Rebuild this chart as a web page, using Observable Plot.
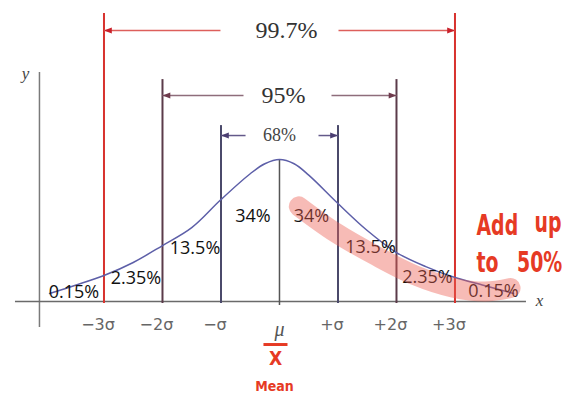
<!DOCTYPE html>
<html><head><meta charset="utf-8">
<script src="https://cdn.jsdelivr.net/npm/d3@7"></script>
<script src="https://cdn.jsdelivr.net/npm/@observablehq/plot@0.6"></script>
<style>
body{margin:0;background:#fff} svg{display:block}
</style>
</head><body><div id="chart"></div>
<script>
// Bell curve (x in σ units, height relative to the peak)
const curveX = [-3.93,-3.5,-3,-2.5,-2,-1.5,-1,-0.5,-0.25,0,0.25,0.5,1,1.5,2,2.5,3,3.5,4.0];
const curveY = [0.056,0.113,0.183,0.275,0.394,0.52,0.718,0.90,0.97,1,0.97,0.89,0.69,0.50,0.345,0.246,0.169,0.113,0.056];

// Tick labels on the x axis
const sigmaTicks = [-3,-2,-1,0,1,2,3];
const tickLabels = ["−3σ","−2σ","−σ","μ","+σ","+2σ","+3σ"];

// Coverage brackets
const bandLabels = ["99.7%","95%","68%"];
const bandHalf = [3,2,1];
const bandTop = [2.028,1.563,1.239];
const bandArrowY = [1.908,1.451,1.169];
const bandInnerLeft = [-1.009,-0.615,-0.58];
const bandInnerRight = [1.009,0.889,0.667];
const bandLabelX = [0.12,0.068,0];

// Segment percentages
const segLabels = ["0.15%","2.35%","13.5%","34%","34%","13.5%","2.35%","0.15%"];
const segX = [-3.513,-2.453,-1.444,-0.453,0.547,1.556,2.53,3.658];
const segY = [0.063,0.162,0.373,0.599,0.599,0.380,0.169,0.070];

// Hand-drawn highlight (right half)
const hlX = [0.33,0.957,1.641,2.325,2.957,3.52,3.95];
const hlY = [0.67,0.486,0.324,0.183,0.099,0.07,0.095];

// Hand-written notes
const noteText = ["Add","up","to","50%"];
const noteX = [3.368,4.36,3.368,4.06];
const noteY = [0.535,0.55,0.275,0.275];

const curve = curveX.map((x,i)=>({x, y: curveY[i]}));
const ticks = sigmaTicks.map((x,i)=>({x, label: tickLabels[i]}));
const bands = bandLabels.map((label,i)=>({label, half: bandHalf[i], top: bandTop[i], ay: bandArrowY[i], il: bandInnerLeft[i], ir: bandInnerRight[i], lx: bandLabelX[i]}));
const segs = segLabels.map((label,i)=>({label, x: segX[i], y: segY[i]}));
const hl = hlX.map((x,i)=>({x, y: hlY[i]}));
const notes = noteText.map((t,i)=>({t, x: noteX[i], y: noteY[i]}));

const lineColors = ["#d8322e","#5b3b4a","#4b4a6b"];
const arrowColors = ["#dd5f5b","#8e6d7b","#63598a"];
const headColors = ["#c9202a","#6e3a4c","#4b3e72"];

const head = {draw(ctx, size){ const r = Math.sqrt(size/Math.PI); ctx.moveTo(0,0); ctx.lineTo(-2.6*r,-r); ctx.lineTo(-2.6*r,r); ctx.closePath(); }};

const heads = [];
bands.forEach((b,i)=>{ heads.push({x:-b.half, y:b.ay, rot:180, c:headColors[i]}); heads.push({x:b.half, y:b.ay, rot:0, c:headColors[i]}); });
const arrows = [];
bands.forEach((b,i)=>{ arrows.push({x1:b.il, x2:-b.half, y:b.ay, c:arrowColors[i]}); arrows.push({x1:b.ir, x2:b.half, y:b.ay, c:arrowColors[i]}); });
const vlines = [];
bands.forEach((b,i)=>{ vlines.push({x:-b.half, top:b.top, c:lineColors[i]}); vlines.push({x:b.half, top:b.top, c:lineColors[i]}); });

const red = "#e63a24";
const serif = "Liberation Serif, DejaVu Serif, serif";
const sans = "Open Sans, DejaVu Sans, sans-serif";
const hand = "DejaVu Sans Condensed, DejaVu Sans, sans-serif";

const chart = Plot.plot({
  width: 562, height: 395, margin: 0,
  x: {domain: [-4.769, 4.838], axis: null},
  y: {domain: [-0.662, 2.120], axis: null},
  marks: [
    Plot.ruleX([-4.103], {y1: -0.183, y2: 1.613, stroke: "#7a7a7a", strokeWidth: 1.5}),
    Plot.ruleY([0], {x1: -4.513, x2: 4.222, stroke: "#6a6a6a", strokeWidth: 1.5}),
    Plot.ruleX(vlines, {x: "x", y1: -0.014, y2: "top", stroke: d => d.c, strokeWidth: 2}),
    Plot.ruleX([0], {y1: -0.028, y2: 1, stroke: "#555", strokeWidth: 1.5}),
    Plot.line(curve, {x: "x", y: "y", stroke: "#5d5fa8", strokeWidth: 1.5, curve: "catmull-rom"}),
    Plot.link(arrows, {x1: "x1", x2: "x2", y1: "y", y2: "y", stroke: d => d.c, strokeWidth: 1.5}),
    Plot.dot(heads, {x: "x", y: "y", symbol: head, r: 3, rotate: "rot", fill: d => d.c, stroke: null}),
    Plot.text(bands.slice(0,2), {x: "lx", y: "ay", text: "label", fontFamily: serif, fontSize: 24, letterSpacing: 2, fill: "#333"}),
    Plot.text(bands.slice(2), {x: "lx", y: "ay", text: "label", fontFamily: serif, fontSize: 18, letterSpacing: 1.5, fill: "#444"}),
    Plot.text(segs, {x: "x", y: "y", text: "label", fontFamily: sans, fontSize: 18, fill: "#111"}),
    Plot.text(ticks.filter(d => d.x !== 0), {x: "x", y: -0.162, text: "label", dx: -6, fontFamily: "DejaVu Sans, sans-serif", fontSize: 16, fill: "#666", letterSpacing: 1.5}),
    Plot.text(ticks.filter(d => d.x === 0), {x: "x", y: -0.197, text: "label", fontFamily: serif, fontStyle: "italic", fontSize: 20, fill: "#555"}),
    Plot.text(["y"], {x: -4.342, y: 1.606, text: d => d, fontFamily: serif, fontStyle: "italic", fontSize: 17, fill: "#444"}),
    Plot.text(["x"], {x: 4.444, y: 0.007, text: d => d, fontFamily: serif, fontStyle: "italic", fontSize: 17, fill: "#444"}),
    Plot.line(hl, {x: "x", y: "y", stroke: "rgb(236,92,82)", strokeOpacity: 0.42, strokeWidth: 20, strokeLinecap: "round", curve: "catmull-rom"}),
    Plot.text(notes, {x: "x", y: "y", text: "t", textAnchor: "start", fontFamily: hand, fontWeight: "bold", fontSize: 21, fill: red, className: "hand"}),
    Plot.link([0], {x1: -0.274, x2: 0.137, y1: -0.303, y2: -0.303, stroke: red, strokeWidth: 3}),
    Plot.text(["X"], {x: -0.068, y: -0.401, text: d => d, fontFamily: hand, fontWeight: "bold", fontSize: 19, fill: red}),
    Plot.text(["Mean"], {x: -0.085, y: -0.599, text: d => d, fontFamily: hand, fontWeight: "bold", fontSize: 14, fill: red})
  ]
});
// stretch the hand-written notes vertically, like the marker writing
d3.select(chart).selectAll(".hand text").attr("transform", function(){
  return (this.getAttribute("transform") || "") + " scale(1,1.35)";
});
document.getElementById("chart").append(chart);
</script></body></html>
